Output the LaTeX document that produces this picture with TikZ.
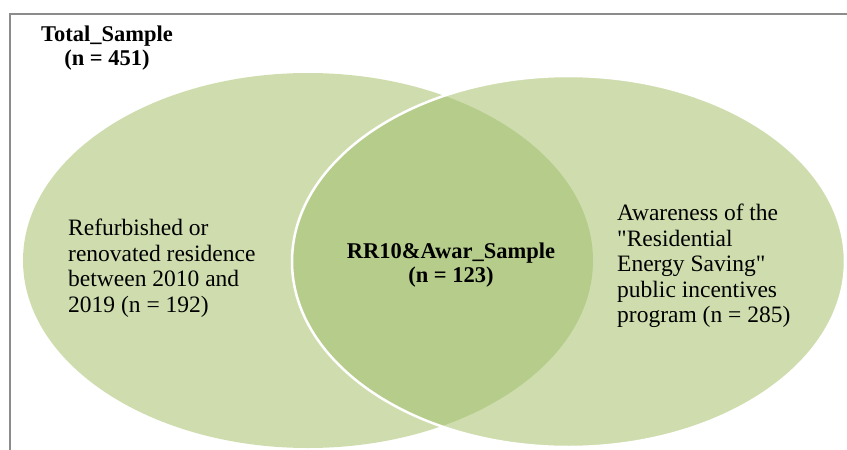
\documentclass[tikz,border=0pt]{standalone}
\usepackage{fontspec}
\setmainfont{Liberation Serif}[Ligatures=TeXOff]
\definecolor{lightgreen}{HTML}{CFDDAE}
\definecolor{midgreen}{HTML}{B5CC8A}
\definecolor{framegray}{HTML}{8C8C8C}
\begin{document}
\begin{tikzpicture}[x=1pt,y=-1pt,
  regtext/.style={inner sep=0pt,align=left,font=\fontsize{23.5}{25.5}\selectfont},
  boldtext/.style={inner sep=0pt,align=center,font=\fontsize{22.5}{23.5}\selectfont\bfseries},
  framestyle/.style={draw=framegray,line width=1.5pt}]
\useasboundingbox (0,0) rectangle (847,450);
\begin{scope}
\clip (0,0) rectangle (847,450);
% ellipses
\fill[lightgreen] (308,260.5) ellipse [x radius=285,y radius=187.5];
\fill[lightgreen] (568.5,261.5) ellipse [x radius=276.5,y radius=185.5];
\begin{scope}
\clip (308,260.5) ellipse [x radius=285,y radius=187.5];
\fill[midgreen] (568.5,261.5) ellipse [x radius=276.5,y radius=185.5];
\end{scope}
\draw[white,line width=2.5pt] (568.5,261.5) ellipse [x radius=276.5,y radius=185.5];
% frame
\draw[framestyle] (10,460) -- (10,14) -- (860,14);
\end{scope}
% texts
\node[boldtext] (total) at (107,48) {Total\_Sample\\(n = 451)};
\node[boldtext] (both) at (451,265) {RR10\&Awar\_Sample\\(n = 123)};
\node[regtext,anchor=west] (left) at (68,268) {Refurbished or\\renovated residence\\between 2010 and\\2019 (n = 192)};
\node[regtext,anchor=west] (right) at (617,266) {Awareness of the\\\symbol{34}Residential\\Energy Saving\symbol{34}\\public incentives\\program (n = 285)};
\end{tikzpicture}
\end{document}
